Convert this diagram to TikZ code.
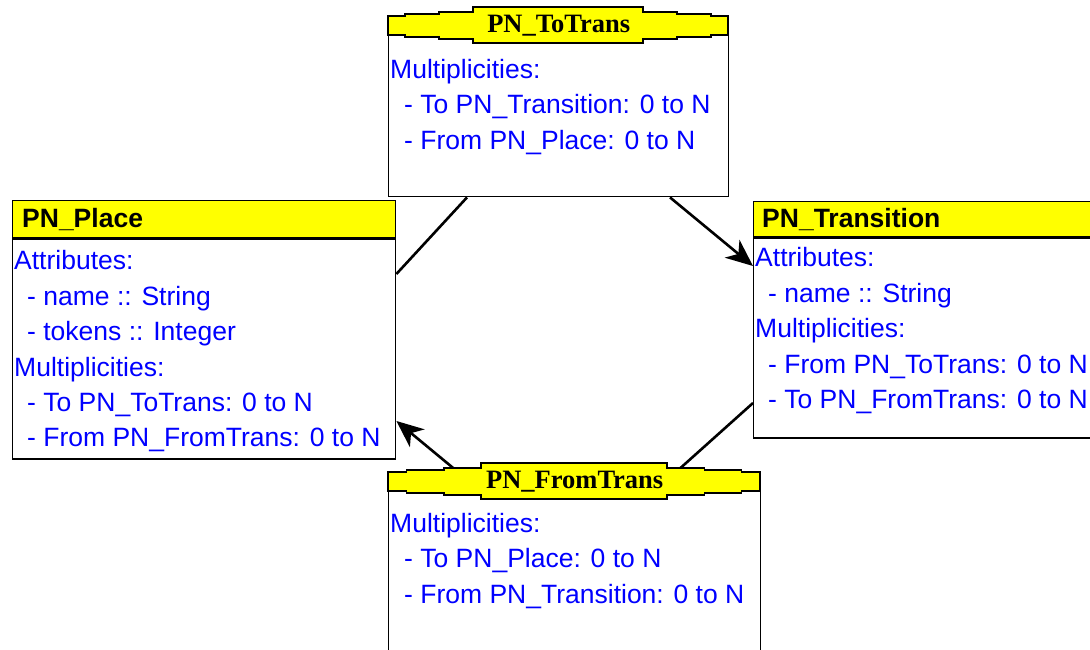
\documentclass[tikz,border=0pt]{standalone}
\usepackage{fontspec}
\setmainfont{Liberation Sans}
\newfontfamily\assocfont{Liberation Serif}
\usetikzlibrary{positioning, calc, arrows.meta}

\definecolor{headyellow}{RGB}{255,255,0}
\definecolor{textblue}{RGB}{0,0,255}

\tikzset{
  boxline/.style={draw=black, line width=1.4pt},
  classhead/.style={boxline, fill=headyellow, minimum height=37pt, inner sep=0pt, anchor=north west},
  classbody/.style={boxline, fill=white, inner sep=0pt},
  classtitle/.style={font=\fontsize{26.5}{32}\selectfont\bfseries, inner sep=0pt, anchor=west},
  assoctitle/.style={font=\fontsize{26.5}{32}\selectfont\assocfont\bfseries, inner sep=0pt},
  bodytext/.style={font=\fontsize{26.5}{35.4}\selectfont, text=textblue, align=left, inner sep=0pt, anchor=north west},
  link/.style={line width=2.6pt, draw=black},
  arrowlink/.style={link, -{Stealth[length=27pt, width=23pt, inset=8pt]}},
}

% stepped header of an association box: #1 box node, #2 box width
\newcommand{\stephead}[2]{%
  \begin{scope}[shift={(#1.north west)}]
    \draw[boxline, fill=headyellow]
      (0,0) -- ({0.05*#2},0) -- ({0.05*#2},-2) -- ({0.15*#2},-2) -- ({0.15*#2},-4)
      -- ({0.25*#2},-4) -- ({0.25*#2},-9) -- ({0.75*#2},-9) -- ({0.75*#2},-4)
      -- ({0.85*#2},-4) -- ({0.85*#2},-2) -- ({0.95*#2},-2) -- ({0.95*#2},0) -- (#2,0)
      -- (#2,19) -- ({0.95*#2},19) -- ({0.95*#2},21) -- ({0.85*#2},21) -- ({0.85*#2},23)
      -- ({0.75*#2},23) -- ({0.75*#2},27) -- ({0.25*#2},27) -- ({0.25*#2},23)
      -- ({0.15*#2},23) -- ({0.15*#2},21) -- ({0.05*#2},21) -- ({0.05*#2},19) -- (0,19) -- cycle;
  \end{scope}}

\begin{document}
\begin{tikzpicture}[x=1pt, y=-1pt]

  \useasboundingbox (0,0) rectangle (1090,650);
  \clip (0,0) rectangle (1090,650);

  % classes
  \node[classhead, minimum width=383pt] (placehead) at (12,200) {};
  \node[classbody, minimum width=383pt, minimum height=220pt, below=0pt of placehead] (place) {};
  \node[classhead, minimum width=350pt, minimum height=35pt] (transhead) at (753,201) {};
  \node[classbody, minimum width=350pt, minimum height=200pt, below=0pt of transhead] (transition) {};

  % association boxes
  \node[classbody, minimum width=340pt, minimum height=180pt, anchor=north west] (totrans) at (388,16) {};
  \node[classbody, minimum width=372pt, minimum height=200pt, anchor=north west] (fromtrans) at (388,472) {};

  % links
  \draw[link] (place.east |- 0,274) -- (totrans.south -| 467,0);
  \draw[arrowlink] (totrans.south -| 670,0) -- (transition.west |- 0,266);
  \draw[link] (transition.west |- 0,403) -- (fromtrans.north -| 676,0);
  \draw[arrowlink] (fromtrans.north -| 458,0) -- (place.east |- 0,421);

  \stephead{totrans}{340}
  \stephead{fromtrans}{372}

  % titles
  \node[classtitle] (placetitle) at ([xshift=10pt]placehead.west) {PN\_Place};
  \node[classtitle] (transtitle) at ([xshift=9pt]transhead.west) {PN\_Transition};
  \node[assoctitle] (totranstitle) at ($(totrans.north)+(0,9.5)$) {PN\_ToTrans};
  \node[assoctitle] (fromtranstitle) at ($(fromtrans.north)+(0,9.5)$) {PN\_FromTrans};

  % contents
  \node[bodytext] (placetext) at ([xshift=2pt, yshift=-12pt]place.north west)
    {Attributes:\\
     \hspace*{13pt}- name :: String\\
     \hspace*{13pt}- tokens :: Integer\\
     Multiplicities:\\
     \hspace*{13pt}- To PN\_ToTrans: 0 to N\\
     \hspace*{13pt}- From PN\_FromTrans: 0 to N};
  \node[bodytext] (transtext) at ([xshift=2pt, yshift=-10pt]transition.north west)
    {Attributes:\\
     \hspace*{13pt}- name :: String\\
     Multiplicities:\\
     \hspace*{13pt}- From PN\_ToTrans: 0 to N\\
     \hspace*{13pt}- To PN\_FromTrans: 0 to N};
  \node[bodytext] (totranstext) at ([xshift=2pt, yshift=-43pt]totrans.north west)
    {Multiplicities:\\
     \hspace*{14pt}- To PN\_Transition: 0 to N\\
     \hspace*{14pt}- From PN\_Place: 0 to N};
  \node[bodytext] (fromtranstext) at ([xshift=2pt, yshift=-41pt]fromtrans.north west)
    {Multiplicities:\\
     \hspace*{14pt}- To PN\_Place: 0 to N\\
     \hspace*{14pt}- From PN\_Transition: 0 to N};

\end{tikzpicture}
\end{document}
